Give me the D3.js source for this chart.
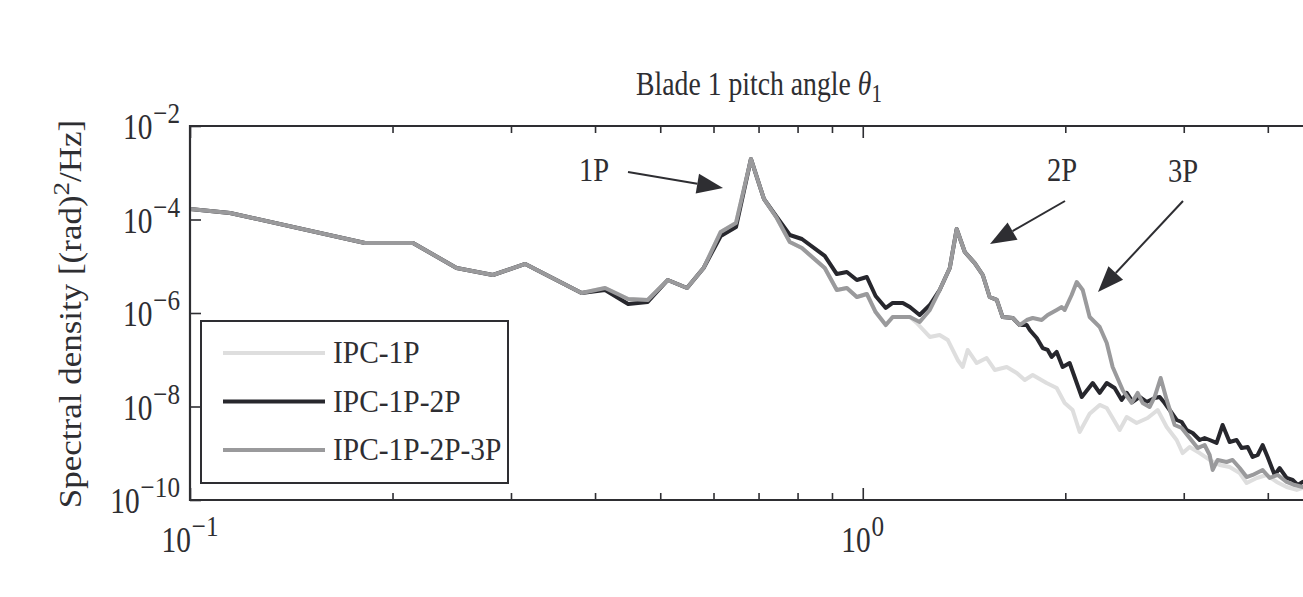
<!DOCTYPE html>
<html><head><meta charset="utf-8">
<script src="https://cdn.jsdelivr.net/npm/d3@7"></script>
<style>
body{margin:0;background:#fff}
svg{display:block}
text{font-family:"Liberation Serif","Times New Roman",serif;fill:#2e2e32}
</style>
</head><body>
<svg id="chart" width="1303" height="597"></svg>
<script>
// ---- data: [frequency (Hz), spectral density (rad^2/Hz)] ----
const lowBand = [[0.100,1.68e-4],[0.1147,1.38e-4],[0.182,3.14e-5],[0.2145,3.14e-5],[0.249,9.2e-6],[0.282,6.5e-6],[0.315,1.12e-5],[0.382,2.68e-6]];

const ipc1p = [[0.414,3.43e-6],[0.448,1.99e-6],[0.479,1.90e-6],[0.513,5.08e-6],[0.548,3.43e-6],[0.580,9.18e-6],[0.615,5.41e-5],[0.648,8.41e-5],[0.682,1.97e-3],[0.713,2.75e-4],[0.745,1.08e-4],[0.779,3.30e-5],[0.812,2.45e-5],[0.878,9.18e-6],[0.915,3.10e-6],[0.947,3.43e-6],[0.980,2.20e-6],[1.014,2.55e-6],[1.045,1.05e-6],[1.082,5.53e-7],[1.108,8.20e-7],[1.147,8.20e-7],[1.175,8.20e-7],[1.203,6.11e-7],[1.258,3.07e-7],[1.301,3.38e-7],[1.338,2.64e-7],[1.384,9.89e-8],[1.408,7.00e-8],[1.432,1.62e-7],[1.477,8.51e-8],[1.528,1.09e-7],[1.571,6.04e-8],[1.637,7.00e-8],[1.694,5.21e-8],[1.741,3.69e-8],[1.789,4.72e-8],[1.876,3.18e-8],[1.942,2.49e-8],[1.996,1.19e-8],[2.051,8.41e-9],[2.101,2.85e-9],[2.174,7.0e-9],[2.250,1.08e-8],[2.305,9.29e-9],[2.409,3.14e-9],[2.468,5.96e-9],[2.553,4.44e-9],[2.651,5.68e-9],[2.744,8.41e-9],[2.830,3.64e-9],[2.928,1.92e-9],[2.989,1.01e-9],[3.061,1.36e-9],[3.168,1.01e-9],[3.278,7.18e-10],[3.392,5.61e-10],[3.510,5.08e-10],[3.633,3.78e-10],[3.721,2.31e-10],[3.851,2.96e-10],[3.984,3.43e-10],[4.124,2.43e-10],[4.266,1.90e-10],[4.416,1.64e-10],[4.507,1.81e-10]];

const ipc1p2p = [[0.414,3.10e-6],[0.448,1.56e-6],[0.479,1.72e-6],[0.513,5.08e-6],[0.548,3.43e-6],[0.580,9.18e-6],[0.615,4.44e-5],[0.648,6.92e-5],[0.682,1.97e-3],[0.713,2.75e-4],[0.745,1.13e-4],[0.779,4.66e-5],[0.812,3.83e-5],[0.878,1.66e-5],[0.915,6.82e-6],[0.947,7.53e-6],[0.980,5.08e-6],[1.014,5.89e-6],[1.045,2.31e-6],[1.082,1.28e-6],[1.108,1.64e-6],[1.147,1.64e-6],[1.175,1.34e-6],[1.215,9.06e-7],[1.258,1.48e-6],[1.301,3.10e-6],[1.347,9.18e-6],[1.379,6.27e-5],[1.418,2.02e-5],[1.467,1.17e-5],[1.508,6.50e-6],[1.544,2.20e-6],[1.582,1.90e-6],[1.614,8.20e-7],[1.671,7.82e-7],[1.711,5.53e-7],[1.753,5.53e-7],[1.771,4.33e-7],[1.814,2.92e-7],[1.851,1.78e-7],[1.883,1.62e-7],[1.909,1.15e-7],[1.942,1.47e-7],[1.982,7.00e-8],[2.030,8.51e-8],[2.080,3.18e-8],[2.116,1.60e-8],[2.197,3.18e-8],[2.250,1.95e-8],[2.305,3.18e-8],[2.368,2.49e-8],[2.426,1.38e-8],[2.468,1.95e-8],[2.519,1.25e-8],[2.580,1.60e-8],[2.642,1.25e-8],[2.716,1.52e-8],[2.763,1.60e-8],[2.810,1.19e-8],[2.859,8.41e-9],[2.928,5.14e-9],[2.979,4.66e-9],[3.030,3.14e-9],[3.093,2.71e-9],[3.168,1.92e-9],[3.222,2.12e-9],[3.278,1.92e-9],[3.357,1.66e-9],[3.427,4.02e-9],[3.510,1.74e-9],[3.595,1.92e-9],[3.658,1.29e-9],[3.734,1.36e-9],[3.798,8.32e-10],[3.864,9.18e-10],[3.930,1.50e-9],[3.998,8.32e-10],[4.095,3.43e-10],[4.166,4.83e-10],[4.266,2.96e-10],[4.355,2.68e-10],[4.431,2.09e-10],[4.507,2.43e-10]];

const ipc1p2p3p = [[0.414,3.43e-6],[0.448,1.99e-6],[0.479,1.90e-6],[0.513,5.08e-6],[0.548,3.43e-6],[0.580,9.18e-6],[0.615,5.41e-5],[0.648,8.41e-5],[0.682,1.97e-3],[0.713,2.75e-4],[0.745,1.08e-4],[0.779,3.30e-5],[0.812,2.45e-5],[0.878,9.18e-6],[0.915,3.10e-6],[0.947,3.43e-6],[0.980,2.20e-6],[1.014,2.55e-6],[1.045,1.05e-6],[1.082,5.53e-7],[1.108,8.20e-7],[1.147,8.20e-7],[1.175,8.20e-7],[1.215,6.41e-7],[1.258,1.16e-6],[1.301,3.10e-6],[1.347,9.18e-6],[1.379,6.27e-5],[1.418,2.02e-5],[1.467,1.17e-5],[1.508,6.50e-6],[1.544,2.20e-6],[1.582,1.90e-6],[1.614,8.20e-7],[1.671,7.82e-7],[1.711,5.53e-7],[1.753,7.08e-7],[1.789,7.82e-7],[1.845,7.08e-7],[1.883,9.06e-7],[1.942,1.16e-6],[1.976,1.34e-6],[1.996,1.16e-6],[2.044,2.43e-6],[2.080,4.60e-6],[2.123,3.10e-6],[2.174,8.20e-7],[2.250,5.02e-7],[2.305,2.28e-7],[2.352,7.00e-8],[2.434,2.25e-8],[2.510,1.19e-8],[2.562,1.95e-8],[2.606,1.19e-8],[2.669,9.75e-9],[2.716,1.60e-8],[2.772,4.07e-8],[2.830,1.38e-8],[2.908,4.02e-9],[2.979,3.47e-9],[3.061,2.12e-9],[3.146,1.29e-9],[3.222,1.50e-9],[3.278,9.18e-10],[3.312,4.39e-10],[3.369,7.18e-10],[3.474,6.50e-10],[3.546,7.18e-10],[3.633,4.83e-10],[3.721,3.10e-10],[3.798,3.43e-10],[3.930,4.39e-10],[4.026,2.96e-10],[4.138,3.43e-10],[4.266,2.43e-10],[4.385,2.09e-10],[4.507,1.90e-10]];

const seriesNames = ["IPC-1P","IPC-1P-2P","IPC-1P-2P-3P"];
const seriesColors = ["#dedede","#27272d","#9a9a9c"];
const xMajorTicks = [0.1, 1];
const xMinorTicks = [0.2,0.3,0.4,0.5,0.6,0.7,0.8,0.9,2,3,4];
const xTickLabels = [{v:0.1, base:"10", exp:"−1"},{v:1, base:"10", exp:"0"}];
const yTicks = [1e-2,1e-4,1e-6,1e-8,1e-10];
const yTickLabels = ["−2","−4","−6","−8","−10"];
const peakLabels = [{t:"1P", f:0.682},{t:"2P", f:1.379},{t:"3P", f:2.080}];

// ---- layout ----
const svg = d3.select("#chart");
const L = 190, T = 126, B = 500, R = 1333;
const x = d3.scaleLog().domain([0.1, 5]).range([L, R]);
const y = d3.scaleLog().domain([1e-10, 1e-2]).range([B, T]);
const SX = 0.84;
const ink = "#2e2e32";

svg.append("defs").append("clipPath").attr("id","clip")
  .append("rect").attr("x",L).attr("y",T).attr("width",R-L).attr("height",B-T);

// series lines
const line = d3.line().x(d=>x(d[0])).y(d=>y(d[1]));
const allSeries = [lowBand.concat(ipc1p), lowBand.concat(ipc1p2p), lowBand.concat(ipc1p2p3p)];
const gLines = svg.append("g").attr("clip-path","url(#clip)");
allSeries.forEach((s,i)=>{
  gLines.append("path").datum(s).attr("d",line).attr("fill","none")
    .attr("stroke",seriesColors[i]).attr("stroke-width",4)
    .attr("stroke-linejoin","round").attr("stroke-linecap","round");
});

// axes (ticks inward)
function styleAxis(g){
  g.select(".domain").remove();
  g.selectAll(".tick text").remove();
  g.selectAll(".tick line").attr("stroke",ink).attr("stroke-width",1.6);
}
svg.append("g").attr("transform",`translate(0,${B})`).call(d3.axisBottom(x).tickValues(xMajorTicks).tickSize(-12)).call(styleAxis);
svg.append("g").attr("transform",`translate(0,${B})`).call(d3.axisBottom(x).tickValues(xMinorTicks).tickSize(-7)).call(styleAxis);
svg.append("g").attr("transform",`translate(0,${T})`).call(d3.axisTop(x).tickValues(xMajorTicks).tickSize(-12)).call(styleAxis);
svg.append("g").attr("transform",`translate(0,${T})`).call(d3.axisTop(x).tickValues(xMinorTicks).tickSize(-7)).call(styleAxis);
svg.append("g").attr("transform",`translate(${L},0)`).call(d3.axisLeft(y).tickValues(yTicks).tickSize(-11)).call(styleAxis);

// frame
svg.append("path").attr("d",`M${R},${T}H${L}V${B}H${R}`).attr("fill","none").attr("stroke",ink).attr("stroke-width",2.2);

// text helper
function label(px, py, anchor, size, parts, extra, sx){
  const t = svg.append("text")
    .attr("transform",`translate(${px},${py}) scale(${sx||SX},1)` + (extra||""))
    .attr("text-anchor",anchor).attr("font-size",size);
  parts.forEach(p=>{
    const ts = t.append("tspan").text(p.t);
    if(p.size) ts.attr("font-size",p.size);
    if(p.dy) ts.attr("dy",p.dy);
    if(p.dx) ts.attr("dx",p.dx);
    if(p.italic) ts.attr("font-style","italic");
  });
  return t;
}

// y tick labels
yTicks.forEach((v,i)=>{
  label(180, y(v)+13, "end", 35, [{t:"10"},{t:yTickLabels[i], size:30, dy:-16, dx:1}]);
});
// x tick labels
xTickLabels.forEach(d=>{
  label(x(d.v), 552, "middle", 35, [{t:d.base},{t:d.exp, size:30, dy:-16, dx:1}]);
});

// title
label(759, 95, "middle", 33, [{t:"Blade 1 pitch angle "},{t:"θ", italic:true},{t:"1", size:25, dy:7}]);

// y-axis label
label(81, 314, "middle", 35, [{t:"Spectral density [(rad)"},{t:"2", size:27, dy:-14},{t:"/Hz]", dy:14}], " rotate(-90)", 0.88);

// legend
const lg = svg.append("g");
lg.append("rect").attr("x",201).attr("y",321).attr("width",307).attr("height",162)
  .attr("fill","#fff").attr("stroke",ink).attr("stroke-width",2);
seriesNames.forEach((n,i)=>{
  const ly = 353 + i*48.5;
  lg.append("line").attr("x1",223).attr("x2",325).attr("y1",ly).attr("y2",ly)
    .attr("stroke",seriesColors[i]).attr("stroke-width",4);
  label(333, ly+10, "start", 32, [{t:n}], "", 0.92);
});

// annotations with arrows
const arrowPaths = [
  {label:peakLabels[0].t, tx:594, ty:181, x1:628, y1:172, x2:723, y2:188},
  {label:peakLabels[1].t, tx:1062, ty:181, x1:1065, y1:201, x2:990, y2:244},
  {label:peakLabels[2].t, tx:1183, ty:182, x1:1183, y1:201, x2:1098, y2:292}
];
arrowPaths.forEach(a=>{
  label(a.tx, a.ty, "middle", 34, [{t:a.label}]);
  const ang = Math.atan2(a.y2-a.y1, a.x2-a.x1);
  const hl = 26, hw = 10;
  const bx = a.x2 - hl*Math.cos(ang), by = a.y2 - hl*Math.sin(ang);
  svg.append("line").attr("x1",a.x1).attr("y1",a.y1).attr("x2",bx).attr("y2",by)
    .attr("stroke",ink).attr("stroke-width",2);
  const px = -Math.sin(ang)*hw, py = Math.cos(ang)*hw;
  svg.append("path").attr("d",`M${a.x2},${a.y2}L${bx+px},${by+py}L${bx-px},${by-py}Z`).attr("fill",ink);
});
</script>
</body></html>
